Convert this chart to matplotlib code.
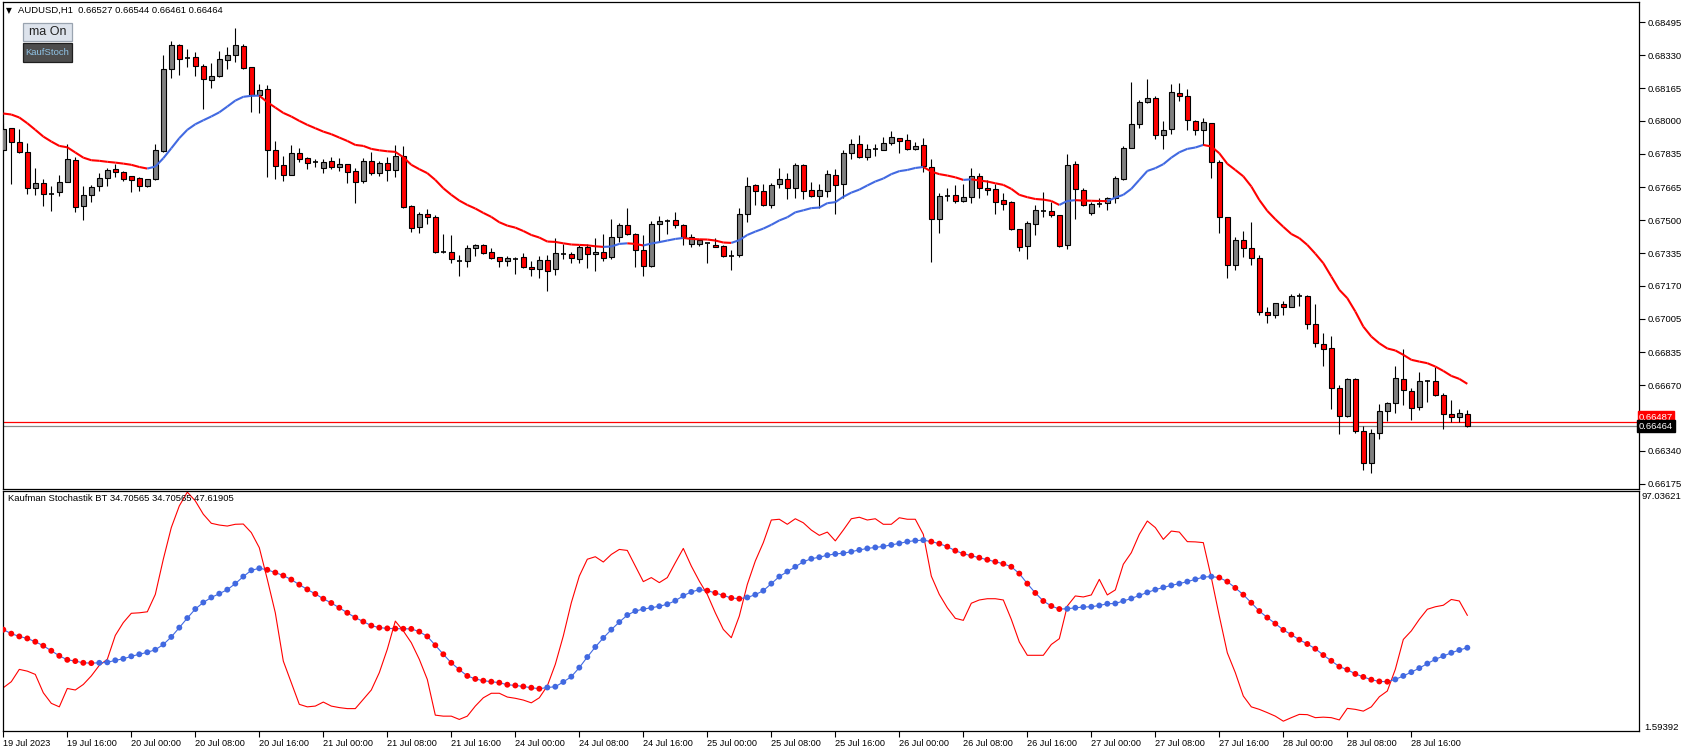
import numpy as np
import matplotlib
matplotlib.use("Agg")
import matplotlib.pyplot as plt
from matplotlib.collections import LineCollection
from matplotlib.patches import Rectangle

plt.rcParams['font.family'] = ['Liberation Sans', 'DejaVu Sans']

symbol_title = "AUDUSD,H1  0.66527 0.66544 0.66461 0.66464"
stoch_title = "Kaufman Stochastik BT 34.70565 34.70565 47.61905"

open_ = [0.67851, 0.67963, 0.67894, 0.67842, 0.67661, 0.67685, 0.67633, 0.67643, 0.67691, 0.67802,
         0.67571, 0.67626, 0.67670, 0.67711, 0.67757, 0.67742, 0.67721, 0.67715, 0.67671, 0.67706,
         0.67849, 0.68260, 0.68380, 0.68317, 0.68320, 0.68275, 0.68204, 0.68226, 0.68305, 0.68330,
         0.68377, 0.68270, 0.68132, 0.68159, 0.67852, 0.67777, 0.67730, 0.67837, 0.67812, 0.67795,
         0.67765, 0.67797, 0.67770, 0.67782, 0.67747, 0.67695, 0.67797, 0.67740, 0.67787, 0.67752,
         0.67822, 0.67571, 0.67465, 0.67530, 0.67515, 0.67339, 0.67339, 0.67297, 0.67294, 0.67359,
         0.67376, 0.67339, 0.67314, 0.67294, 0.67303, 0.67314, 0.67264, 0.67254, 0.67299, 0.67254,
         0.67332, 0.67329, 0.67304, 0.67364, 0.67329, 0.67341, 0.67314, 0.67415, 0.67477, 0.67431,
         0.67349, 0.67269, 0.67483, 0.67497, 0.67500, 0.67475, 0.67380, 0.67380, 0.67384, 0.67376,
         0.67371, 0.67322, 0.67324, 0.67530, 0.67676, 0.67646, 0.67579, 0.67681, 0.67706, 0.67660,
         0.67777, 0.67653, 0.67624, 0.67649, 0.67727, 0.67680, 0.67837, 0.67883, 0.67817, 0.67856,
         0.67852, 0.67888, 0.67913, 0.67903, 0.67856, 0.67877, 0.67767, 0.67505, 0.67622, 0.67626,
         0.67599, 0.67616, 0.67721, 0.67661, 0.67656, 0.67601, 0.67591, 0.67455, 0.67369, 0.67480,
         0.67547, 0.67545, 0.67525, 0.67374, 0.67782, 0.67653, 0.67535, 0.67580, 0.67586, 0.67611,
         0.67710, 0.67866, 0.67983, 0.68094, 0.68114, 0.67931, 0.67958, 0.68139, 0.68124, 0.67998,
         0.67953, 0.67988, 0.67794, 0.67515, 0.67274, 0.67400, 0.67359, 0.67309, 0.67037, 0.67021,
         0.67081, 0.67066, 0.67118, 0.67118, 0.66977, 0.66878, 0.66856, 0.66655, 0.66514, 0.66700,
         0.66439, 0.66281, 0.66429, 0.66539, 0.66580, 0.66700, 0.66640, 0.66560, 0.66690, 0.66690,
         0.66622, 0.66526, 0.66509, 0.66527]

high_ = [0.67988, 0.67966, 0.67958, 0.67888, 0.67762, 0.67706, 0.67671, 0.67728, 0.67883, 0.67817,
         0.67673, 0.67678, 0.67738, 0.67763, 0.67782, 0.67750, 0.67723, 0.67718, 0.67710, 0.67884,
         0.68332, 0.68402, 0.68385, 0.68364, 0.68347, 0.68285, 0.68290, 0.68352, 0.68370, 0.68466,
         0.68385, 0.68272, 0.68186, 0.68181, 0.67899, 0.67824, 0.67879, 0.67864, 0.67820, 0.67807,
         0.67807, 0.67819, 0.67814, 0.67784, 0.67763, 0.67812, 0.67841, 0.67799, 0.67819, 0.67879,
         0.67874, 0.67577, 0.67542, 0.67557, 0.67525, 0.67431, 0.67426, 0.67326, 0.67376, 0.67380,
         0.67380, 0.67361, 0.67316, 0.67319, 0.67314, 0.67334, 0.67294, 0.67321, 0.67326, 0.67411,
         0.67381, 0.67339, 0.67376, 0.67380, 0.67411, 0.67431, 0.67507, 0.67487, 0.67562, 0.67436,
         0.67426, 0.67497, 0.67522, 0.67505, 0.67542, 0.67480, 0.67431, 0.67408, 0.67388, 0.67410,
         0.67376, 0.67351, 0.67562, 0.67718, 0.67683, 0.67683, 0.67688, 0.67763, 0.67738, 0.67789,
         0.67784, 0.67693, 0.67683, 0.67753, 0.67758, 0.67852, 0.67908, 0.67929, 0.67883, 0.67883,
         0.67919, 0.67949, 0.67916, 0.67934, 0.67894, 0.67913, 0.67809, 0.67636, 0.67663, 0.67678,
         0.67683, 0.67763, 0.67738, 0.67701, 0.67681, 0.67638, 0.67596, 0.67457, 0.67497, 0.67577,
         0.67643, 0.67591, 0.67527, 0.67834, 0.67799, 0.67660, 0.67594, 0.67614, 0.67618, 0.67723,
         0.67874, 0.68196, 0.68107, 0.68211, 0.68126, 0.68000, 0.68183, 0.68191, 0.68161, 0.68003,
         0.68015, 0.67990, 0.67804, 0.67517, 0.67415, 0.67446, 0.67490, 0.67326, 0.67063, 0.67085,
         0.67094, 0.67128, 0.67135, 0.67125, 0.67079, 0.66932, 0.66918, 0.66672, 0.66705, 0.66705,
         0.66466, 0.66449, 0.66576, 0.66585, 0.66768, 0.66853, 0.66655, 0.66737, 0.66695, 0.66761,
         0.66632, 0.66596, 0.66551, 0.66544]

low_ = [0.67846, 0.67683, 0.67836, 0.67634, 0.67628, 0.67574, 0.67549, 0.67624, 0.67690, 0.67540,
        0.67499, 0.67594, 0.67649, 0.67670, 0.67720, 0.67695, 0.67644, 0.67649, 0.67665, 0.67705,
        0.67842, 0.68218, 0.68231, 0.68271, 0.68226, 0.68062, 0.68167, 0.68223, 0.68263, 0.68295,
        0.68263, 0.68047, 0.68042, 0.67718, 0.67710, 0.67700, 0.67728, 0.67795, 0.67760, 0.67770,
        0.67740, 0.67758, 0.67750, 0.67685, 0.67589, 0.67686, 0.67727, 0.67725, 0.67700, 0.67720,
        0.67564, 0.67443, 0.67438, 0.67480, 0.67337, 0.67334, 0.67284, 0.67222, 0.67267, 0.67322,
        0.67332, 0.67307, 0.67267, 0.67272, 0.67232, 0.67259, 0.67222, 0.67212, 0.67146, 0.67227,
        0.67307, 0.67287, 0.67287, 0.67262, 0.67247, 0.67297, 0.67304, 0.67393, 0.67428, 0.67267,
        0.67222, 0.67264, 0.67390, 0.67431, 0.67460, 0.67373, 0.67364, 0.67368, 0.67287, 0.67363,
        0.67314, 0.67252, 0.67317, 0.67493, 0.67577, 0.67572, 0.67564, 0.67660, 0.67609, 0.67612,
        0.67609, 0.67618, 0.67564, 0.67618, 0.67529, 0.67614, 0.67810, 0.67815, 0.67805, 0.67825,
        0.67851, 0.67881, 0.67836, 0.67854, 0.67851, 0.67742, 0.67292, 0.67438, 0.67599, 0.67589,
        0.67594, 0.67589, 0.67614, 0.67628, 0.67529, 0.67554, 0.67453, 0.67346, 0.67307, 0.67428,
        0.67514, 0.67514, 0.67363, 0.67353, 0.67504, 0.67574, 0.67524, 0.67569, 0.67554, 0.67589,
        0.67705, 0.67862, 0.67966, 0.68092, 0.67911, 0.67856, 0.67936, 0.68102, 0.67956, 0.67931,
        0.67881, 0.67715, 0.67438, 0.67212, 0.67252, 0.67317, 0.67277, 0.67021, 0.66982, 0.67006,
        0.67021, 0.67064, 0.67071, 0.66955, 0.66861, 0.66769, 0.66551, 0.66427, 0.66509, 0.66430,
        0.66246, 0.66228, 0.66402, 0.66491, 0.66528, 0.66573, 0.66497, 0.66543, 0.66588, 0.66618,
        0.66452, 0.66487, 0.66484, 0.66461]

close_ = [0.67958, 0.67893, 0.67842, 0.67661, 0.67686, 0.67631, 0.67633, 0.67691, 0.67807, 0.67569,
          0.67626, 0.67666, 0.67711, 0.67752, 0.67742, 0.67706, 0.67701, 0.67671, 0.67706, 0.67852,
          0.68260, 0.68380, 0.68310, 0.68317, 0.68275, 0.68209, 0.68224, 0.68310, 0.68330, 0.68380,
          0.68265, 0.68131, 0.68154, 0.67851, 0.67775, 0.67730, 0.67837, 0.67810, 0.67790, 0.67795,
          0.67794, 0.67770, 0.67782, 0.67745, 0.67691, 0.67797, 0.67740, 0.67787, 0.67755, 0.67822,
          0.67567, 0.67460, 0.67530, 0.67514, 0.67339, 0.67339, 0.67304, 0.67297, 0.67359, 0.67376,
          0.67337, 0.67312, 0.67294, 0.67309, 0.67303, 0.67264, 0.67254, 0.67299, 0.67247, 0.67334,
          0.67332, 0.67309, 0.67364, 0.67329, 0.67341, 0.67309, 0.67416, 0.67477, 0.67430, 0.67349,
          0.67269, 0.67480, 0.67495, 0.67497, 0.67475, 0.67415, 0.67415, 0.67400, 0.67384, 0.67364,
          0.67319, 0.67322, 0.67530, 0.67671, 0.67649, 0.67579, 0.67676, 0.67706, 0.67660, 0.67777,
          0.67649, 0.67624, 0.67653, 0.67732, 0.67675, 0.67837, 0.67883, 0.67820, 0.67857, 0.67856,
          0.67888, 0.67918, 0.67897, 0.67857, 0.67872, 0.67772, 0.67505, 0.67621, 0.67622, 0.67599,
          0.67616, 0.67721, 0.67661, 0.67651, 0.67594, 0.67584, 0.67455, 0.67364, 0.67485, 0.67550,
          0.67547, 0.67525, 0.67369, 0.67777, 0.67656, 0.67576, 0.67581, 0.67580, 0.67611, 0.67711,
          0.67862, 0.67983, 0.68094, 0.68114, 0.67928, 0.67953, 0.68144, 0.68124, 0.68003, 0.67953,
          0.67993, 0.67792, 0.67515, 0.67274, 0.67400, 0.67359, 0.67309, 0.67037, 0.67021, 0.67083,
          0.67066, 0.67118, 0.67118, 0.66977, 0.66885, 0.66851, 0.66655, 0.66514, 0.66700, 0.66439,
          0.66278, 0.66429, 0.66539, 0.66581, 0.66705, 0.66645, 0.66553, 0.66690, 0.66690, 0.66623,
          0.66524, 0.66509, 0.66529, 0.66464]

ma_line = [0.68037, 0.68032, 0.68017, 0.67988, 0.67955, 0.67921, 0.67896, 0.67874, 0.67867, 0.67841,
           0.67815, 0.67802, 0.67799, 0.67794, 0.67790, 0.67785, 0.67779, 0.67768, 0.67760, 0.67770,
           0.67812, 0.67862, 0.67913, 0.67955, 0.67983, 0.68003, 0.68022, 0.68043, 0.68072, 0.68102,
           0.68121, 0.68126, 0.68127, 0.68094, 0.68067, 0.68040, 0.68022, 0.68000, 0.67980, 0.67963,
           0.67946, 0.67933, 0.67916, 0.67899, 0.67879, 0.67874, 0.67859, 0.67852, 0.67847, 0.67844,
           0.67817, 0.67779, 0.67757, 0.67737, 0.67703, 0.67661, 0.67628, 0.67599, 0.67577, 0.67559,
           0.67537, 0.67517, 0.67490, 0.67473, 0.67463, 0.67446, 0.67426, 0.67413, 0.67393, 0.67391,
           0.67384, 0.67378, 0.67376, 0.67374, 0.67369, 0.67366, 0.67368, 0.67381, 0.67384, 0.67381,
           0.67373, 0.67383, 0.67390, 0.67398, 0.67406, 0.67411, 0.67406, 0.67404, 0.67403, 0.67398,
           0.67388, 0.67386, 0.67400, 0.67426, 0.67443, 0.67458, 0.67477, 0.67499, 0.67515, 0.67540,
           0.67550, 0.67561, 0.67564, 0.67586, 0.67591, 0.67618, 0.67639, 0.67654, 0.67675, 0.67695,
           0.67710, 0.67732, 0.67747, 0.67753, 0.67763, 0.67768, 0.67745, 0.67732, 0.67725, 0.67716,
           0.67703, 0.67706, 0.67700, 0.67695, 0.67686, 0.67678, 0.67658, 0.67628, 0.67616, 0.67607,
           0.67604, 0.67597, 0.67577, 0.67597, 0.67601, 0.67599, 0.67598, 0.67597, 0.67596, 0.67614,
           0.67628, 0.67658, 0.67703, 0.67748, 0.67762, 0.67782, 0.67815, 0.67842, 0.67859, 0.67866,
           0.67879, 0.67871, 0.67837, 0.67784, 0.67753, 0.67721, 0.67670, 0.67602, 0.67547, 0.67505,
           0.67467, 0.67431, 0.67410, 0.67376, 0.67332, 0.67284, 0.67217, 0.67150, 0.67108, 0.67041,
           0.66965, 0.66915, 0.66881, 0.66855, 0.66845, 0.66823, 0.66798, 0.66789, 0.66781, 0.66764,
           0.66742, 0.66717, 0.66702, 0.66677]

stoch_fast = [18.8, 21.2, 26.1, 25.4, 24.1, 16.8, 12.6, 11.2, 18.5, 17.9,
              20.1, 23.5, 27.7, 30.1, 39.6, 44.7, 48.4, 48.6, 49.0, 55.9,
              69.9, 82.5, 91.1, 96.6, 93.1, 87.8, 84.2, 83.5, 83.1, 83.8,
              83.9, 80.5, 74.5, 61.9, 48.6, 29.4, 20.8, 12.2, 11.2, 11.5,
              13.1, 11.5, 10.9, 10.5, 10.5, 14.2, 17.9, 24.8, 34.1, 45.3,
              41.4, 36.7, 30.1, 22.1, 7.9, 7.5, 7.5, 6.2, 7.5, 11.5,
              14.8, 16.6, 16.6, 15.1, 14.6, 13.9, 12.8, 14.8, 19.5, 28.1,
              39.4, 52.6, 63.2, 69.9, 70.9, 68.8, 71.8, 73.8, 73.4, 67.2,
              61.0, 62.6, 60.6, 62.6, 68.5, 74.2, 67.2, 61.2, 55.9, 48.6,
              42.0, 38.7, 47.3, 59.9, 69.2, 76.5, 85.5, 85.8, 83.8, 86.0,
              84.4, 81.5, 79.4, 80.7, 77.2, 81.5, 86.0, 86.6, 85.5, 86.0,
              83.8, 83.8, 86.4, 85.8, 85.8, 79.8, 63.2, 55.9, 50.6, 46.4,
              45.6, 52.4, 53.7, 54.2, 54.2, 53.7, 46.0, 37.0, 31.7, 31.7,
              31.7, 36.0, 38.3, 51.3, 55.3, 54.9, 55.7, 61.9, 55.7, 57.7,
              67.9, 72.5, 79.8, 85.1, 82.5, 77.8, 81.1, 80.7, 76.9, 76.8,
              76.5, 62.6, 47.3, 32.7, 24.8, 15.5, 11.2, 10.2, 8.9, 7.5,
              5.5, 6.9, 8.2, 8.1, 6.9, 7.1, 6.9, 6.0, 10.6, 10.2,
              9.5, 11.2, 15.2, 17.5, 26.1, 38.0, 41.4, 46.0, 50.0, 51.0,
              51.6, 53.9, 53.3, 47.61905]

stoch_signal = [41.9, 40.3, 39.2, 38.4, 37.1, 35.5, 33.5, 31.5, 29.9, 29.4,
                28.7, 28.6, 28.7, 28.9, 29.7, 30.3, 31.3, 32.1, 32.9, 33.9,
                36.0, 39.0, 42.7, 46.5, 50.1, 52.7, 54.7, 56.2, 57.8, 60.2,
                63.0, 65.5, 66.3, 65.7, 64.6, 63.4, 61.8, 59.8, 57.9, 56.1,
                54.2, 52.5, 50.6, 48.6, 46.7, 45.1, 43.5, 42.7, 42.4, 42.3,
                42.25, 42.2, 41.1, 39.2, 35.7, 32.1, 28.7, 26.0, 23.5, 22.3,
                21.6, 21.2, 20.8, 20.0, 19.7, 19.3, 18.8, 18.4, 18.9, 19.2,
                21.1, 23.2, 26.8, 31.0, 35.0, 38.6, 41.9, 44.9, 47.7, 49.3,
                50.1, 50.6, 51.2, 52.0, 53.4, 55.4, 56.9, 57.8, 57.4, 56.5,
                55.5, 54.5, 54.2, 54.7, 55.8, 57.4, 60.2, 63.0, 65.0, 66.9,
                68.9, 70.1, 70.7, 71.5, 72.0, 72.3, 72.9, 73.6, 74.2, 74.6,
                75.0, 75.6, 76.2, 76.9, 77.3, 77.5, 76.9, 76.1, 74.9, 73.3,
                72.1, 71.3, 70.5, 69.7, 68.9, 68.1, 66.9, 64.2, 60.2, 56.5,
                53.3, 51.3, 50.1, 50.2, 50.6, 50.9, 51.0, 51.5, 52.2, 52.3,
                53.3, 54.3, 55.5, 56.7, 57.8, 58.7, 59.5, 60.2, 61.0, 61.9,
                62.8, 63.0, 62.6, 61.0, 58.5, 55.8, 52.6, 49.3, 46.7, 44.3,
                41.8, 39.9, 37.9, 36.2, 34.3, 31.8, 29.5, 27.2, 26.0, 24.3,
                23.1, 22.0, 21.3, 21.2, 22.1, 23.5, 25.0, 26.6, 28.4, 30.1,
                31.4, 32.7, 33.8, 34.70565]

bid_price = 0.66464
ask_price = 0.66487

price_ticks = [0.68495, 0.68330, 0.68165, 0.68000, 0.67835, 0.67665, 0.67500,
               0.67335, 0.67170, 0.67005, 0.66835, 0.66670, 0.66340, 0.66175]
price_top, price_bottom = 0.68598, 0.66148
stoch_min, stoch_max = 1.59392, 97.03621

time_ticks = [0, 8, 16, 24, 32, 40, 48, 56, 64, 72, 80, 88, 96, 104, 112, 120,
              128, 136, 144, 152, 160, 168, 176]
time_labels = ["19 Jul 2023", "19 Jul 16:00", "20 Jul 00:00", "20 Jul 08:00", "20 Jul 16:00",
               "21 Jul 00:00", "21 Jul 08:00", "21 Jul 16:00", "24 Jul 00:00", "24 Jul 08:00",
               "24 Jul 16:00", "25 Jul 00:00", "25 Jul 08:00", "25 Jul 16:00", "26 Jul 00:00",
               "26 Jul 08:00", "26 Jul 16:00", "27 Jul 00:00", "27 Jul 08:00", "27 Jul 16:00",
               "28 Jul 00:00", "28 Jul 08:00", "28 Jul 16:00"]

RED = '#FF0000'
BLUE = '#4169E1'
GREY = '#808080'

o = np.array(open_); h = np.array(high_); l = np.array(low_); c = np.array(close_)
n = len(c)
x = np.arange(n)

W, H = 1685, 752
fig = plt.figure(figsize=(W / 100, H / 100), dpi=100)
fig.patch.set_facecolor('white')


def rect(left, top, right, bottom):
    return [left / W, 1 - bottom / H, (right - left) / W, (bottom - top) / H]


ax = fig.add_axes(rect(2.5, 2, 1639, 489))
ax2 = fig.add_axes(rect(2.5, 491, 1639, 731))

xl = (-0.1, 204.46)
for a in (ax, ax2):
    a.set_xlim(*xl)
    a.set_facecolor('white')
    for s in a.spines.values():
        s.set_color('black')
        s.set_linewidth(0.9)

# ---- main price panel ----
ax.set_ylim(price_bottom, price_top)
ax.vlines(x, l, h, color='black', linewidth=0.8, zorder=2)
up = c > o
dn = c < o
dj = c == o
bw = 0.58
ax.bar(x[up], (c - o)[up], bottom=o[up], width=bw, color=GREY,
       edgecolor='black', linewidth=0.8, zorder=3)
ax.bar(x[dn], (o - c)[dn], bottom=c[dn], width=bw, color=RED,
       edgecolor='black', linewidth=0.8, zorder=3)
ax.hlines(o[dj], x[dj] - bw / 2, x[dj] + bw / 2, color='black', linewidth=1.2, zorder=3)

ma = np.array(ma_line)
pts = np.column_stack([x, ma])
segs = np.stack([pts[:-1], pts[1:]], axis=1)
cols = []
prev = RED
for dv in np.diff(ma):
    if dv > 0:
        prev = BLUE
    elif dv < 0:
        prev = RED
    cols.append(prev)
ax.add_collection(LineCollection(segs, colors=cols, linewidths=1.5, zorder=4,
                                 capstyle='butt'))

ax.axhline(ask_price, color=RED, linewidth=0.9, zorder=1)
ax.axhline(bid_price, color='#8a8a8a', linewidth=0.9, zorder=1)

ax.set_xticks([])
ax.yaxis.tick_right()
ax.set_yticks(price_ticks)
ax.set_yticklabels([f"{v:.5f}" for v in price_ticks])
ax.tick_params(axis='y', direction='out', length=4, width=0.8, pad=2,
               labelsize=6.8, colors='black')

ax.text(1.0, ask_price, f"{ask_price:.5f}", transform=ax.get_yaxis_transform(),
        ha='left', va='bottom', fontsize=6.8, color='white', clip_on=False, zorder=10,
        bbox=dict(boxstyle='square,pad=0.12', fc=RED, ec=RED))
ax.text(1.0, bid_price, f"{bid_price:.5f}", transform=ax.get_yaxis_transform(),
        ha='left', va='center', fontsize=6.8, color='white', clip_on=False, zorder=11,
        bbox=dict(boxstyle='square,pad=0.18', fc='black', ec='black'))

# ---- stochastic panel ----
ax2.set_ylim(stoch_min, stoch_max)
ax2.plot(x, stoch_fast, color=RED, linewidth=0.8, zorder=2)
sig = np.array(stoch_signal)
ax2.plot(x, sig, color=BLUE, linewidth=0.8, zorder=3)
dcols = [RED]
for i in range(1, n):
    dcols.append(BLUE if sig[i] > sig[i - 1] else RED)
ax2.scatter(x, sig, c=dcols, s=18, linewidths=0, zorder=4)

ax2.set_yticks([])
ax2.set_xticks(time_ticks)
ax2.set_xticklabels(time_labels, ha='left', fontsize=6.6)
ax2.tick_params(axis='x', direction='out', length=4, width=0.8, pad=2)

ax2.annotate(f"{stoch_max:.5f}", xy=(1, 1), xycoords='axes fraction',
             xytext=(2, -1), textcoords='offset pixels', ha='left', va='top', fontsize=6.8)
ax2.annotate(f"{stoch_min:.5f}", xy=(1, 0), xycoords='axes fraction',
             xytext=(5, 3), textcoords='offset pixels', ha='left', va='center', fontsize=6.8)
ax2.annotate(stoch_title, xy=(0, 1), xycoords='axes fraction',
             xytext=(6, -3), textcoords='offset pixels', ha='left', va='top', fontsize=6.8)

# ---- header and buttons ----
fig.text(6 / W, 1 - 10.5 / H, "\u25BC", fontsize=5.5, ha='left', va='center',
         family=['DejaVu Sans'])
fig.text(18 / W, 1 - 10.5 / H, symbol_title, fontsize=6.8, ha='left', va='center')

b1 = Rectangle((23 / W, 1 - 41 / H), 49 / W, 18 / H, transform=fig.transFigure,
               facecolor='#DDE3EC', edgecolor='#9AA4B0', linewidth=0.9, zorder=20)
b2 = Rectangle((23 / W, 1 - 62 / H), 49 / W, 19 / H, transform=fig.transFigure,
               facecolor='#4D4D4D', edgecolor='#1E1E1E', linewidth=0.9, zorder=20)
fig.add_artist(b1)
fig.add_artist(b2)
fig.text(47.5 / W, 1 - 32 / H, "ma On", fontsize=9, ha='center', va='center',
         color='#222222', zorder=21)
fig.text(47.5 / W, 1 - 52.5 / H, "KaufStoch", fontsize=6.8, ha='center', va='center',
         color='#8FC3E6', zorder=21)

fig.savefig("out.png", dpi=100, facecolor='white')
